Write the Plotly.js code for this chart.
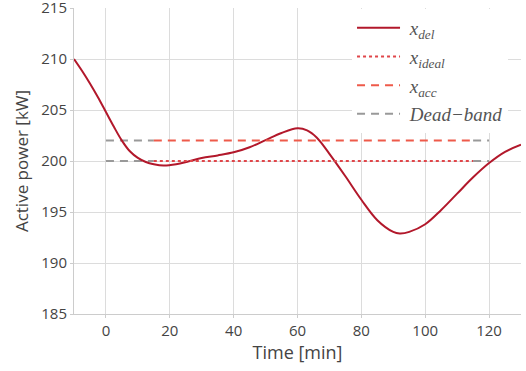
<!DOCTYPE html>
<html>
<head>
<meta charset="utf-8">
<script src="https://cdn.plot.ly/plotly-3.0.1.min.js"></script>
<style>html,body{margin:0;padding:0;background:#fff;}#chart{width:526px;height:371px;}</style>
</head>
<body>
<div id="chart"></div>
<script>
const timeMin = [-10,-7.5,-5,-2.5,0,2.5,5,7.5,10,12.5,15,18,22,26,30,35,40,45,50,55,60,63,66,70,75,80,85,90,92,95,100,105,110,115,120,125,130];
const xDel = [210,208.85,207.6,206.25,204.8,203.35,202.0,200.95,200.3,199.9,199.68,199.55,199.68,199.98,200.3,200.55,200.85,201.35,202.05,202.75,203.2,203.0,202.3,200.7,198.5,196.2,194.2,193.05,192.9,193.05,193.8,195.2,196.8,198.4,199.8,200.9,201.6];
const idealX = [15,115];
const idealY = [200,200];
const accX = [15,115];
const accY = [202,202];
const bandX = [0,15,null,115,120];
const bandLow = [200,200,null,200,200];
const bandHigh = [202,202,null,202,202];

const data = [
  {x: bandX, y: bandHigh, mode: 'lines', name: '&nbsp;<i>Dead−band</i>', legendrank: 4, legendgroup: 'd',
   line: {color: '#999999', width: 2, dash: '8px,6px'}},
  {x: bandX, y: bandLow, mode: 'lines', showlegend: false, legendgroup: 'd',
   line: {color: '#999999', width: 2, dash: '8px,6px'}},
  {x: timeMin, y: xDel, mode: 'lines', name: '&nbsp;<i>x</i><sub><i>del</i></sub>', legendrank: 1, legendgroup: 'a',
   line: {color: '#b2182b', width: 2, shape: 'spline', smoothing: 1}},
  {x: idealX, y: idealY, mode: 'lines', name: '&nbsp;<i>x</i><sub><i>ideal</i></sub>', legendrank: 2, legendgroup: 'b',
   line: {color: '#e0464a', width: 2, dash: 'dot'}},
  {x: accX, y: accY, mode: 'lines', name: '&nbsp;<i>x</i><sub><i>acc</i></sub>', legendrank: 3, legendgroup: 'c',
   line: {color: '#ee5a4a', width: 2, dash: '8px,6px'}}
];

const layout = {
  width: 526, height: 371,
  margin: {l: 74, r: 5, t: 8, b: 57},
  paper_bgcolor: '#ffffff', plot_bgcolor: '#ffffff',
  font: {family: 'Open Sans, sans-serif', color: '#444', size: 15},
  xaxis: {
    range: [-10, 130], dtick: 20, tick0: 0,
    showgrid: true, gridcolor: '#dcdcdc', gridwidth: 1,
    zeroline: false, showline: true, linecolor: '#cccccc', linewidth: 1,
    ticks: 'outside', ticklen: 3, tickcolor: '#cccccc',
    tickfont: {size: 15, color: '#444'},
    title: {text: 'Time [min]', font: {size: 18, color: '#444'}, standoff: 4}
  },
  yaxis: {
    range: [185, 215], dtick: 5,
    showgrid: true, gridcolor: '#dcdcdc', gridwidth: 1,
    zeroline: false, showline: true, linecolor: '#cccccc', linewidth: 1,
    ticks: 'outside', ticklen: 3, tickcolor: '#cccccc',
    tickfont: {size: 15, color: '#444'}, ticklabeloverflow: 'allow',
    title: {text: 'Active power [kW]', font: {size: 17, color: '#444'}, standoff: 8}
  },
  legend: {
    x: 0.622, xanchor: 'left', y: 0.997, yanchor: 'top',
    bgcolor: 'rgba(255,255,255,1)', borderwidth: 0,
    font: {family: 'Liberation Serif, DejaVu Serif, serif', size: 19, color: '#555'},
    itemwidth: 43, tracegroupgap: 1
  },
  showlegend: true
};

Plotly.newPlot('chart', data, layout, {displayModeBar: false, staticPlot: true});
</script>
</body>
</html>
